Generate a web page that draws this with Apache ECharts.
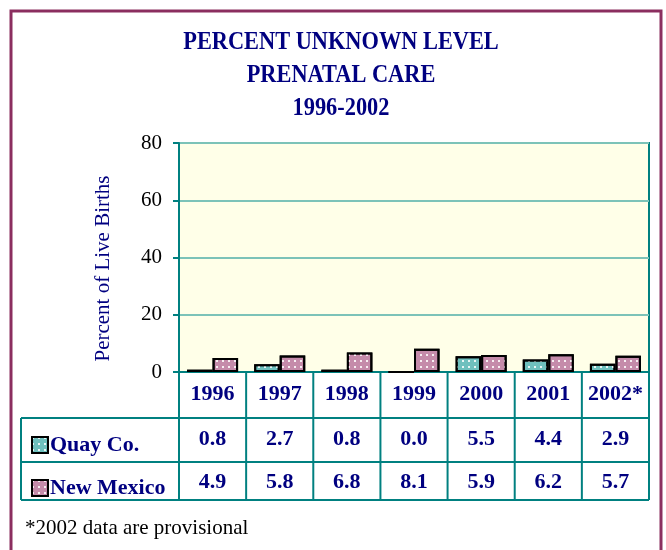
<!DOCTYPE html>
<html>
<head>
<meta charset="utf-8">
<script src="https://cdn.jsdelivr.net/npm/echarts@6/dist/echarts.min.js"></script>
<style>
  html, body { margin: 0; padding: 0; background: #fff; }
  #chart { width: 666px; height: 550px; }
</style>
</head>
<body>
<div id="chart"></div>
<script>
// data
var years = ['1996', '1997', '1998', '1999', '2000', '2001', '2002*']
var quayCo = [0.8, 2.7, 0.8, 0.0, 5.5, 4.4, 2.9]
var newMexico = [4.9, 5.8, 6.8, 8.1, 5.9, 6.2, 5.7]
var seriesNames = ['Quay Co.', 'New Mexico']
var yTicks = [0, 20, 40, 60, 80]

var NAVY = '#000080'
var TEAL = '#008080'
var SERIF = '"Liberation Serif", "Times New Roman", serif'

var chart = echarts.init(document.getElementById('chart'))

var dots = {
  symbol: 'rect',
  symbolSize: 1,
  color: 'rgba(255,255,255,0.85)',
  dashArrayX: [1.5, 4],
  dashArrayY: [1.5, 4],
  rotation: 0
}

// table under the plot: header row is the x axis labels, body rows drawn here
function renderTable(params, api) {
  var i = api.value(0)
  var p = api.coord([i, 0])
  var bw = api.size([1, 0])[0]
  var x0 = p[0] - bw / 2
  var x1 = p[0] + bw / 2
  var y0 = p[1]
  var rowTop = y0 + 46
  var rowMid = y0 + 90
  var rowBot = y0 + 128
  var lineStyle = { stroke: TEAL, lineWidth: 2 }
  var txt = { fill: NAVY, font: 'bold 22px ' + SERIF, align: 'center', verticalAlign: 'middle' }
  var children = [
    { type: 'line', shape: { x1: x1, y1: y0, x2: x1, y2: rowBot }, style: lineStyle },
    { type: 'text', style: Object.assign({ x: p[0], y: y0 + 67, text: quayCo[i].toFixed(1) }, txt) },
    { type: 'text', style: Object.assign({ x: p[0], y: y0 + 110, text: newMexico[i].toFixed(1) }, txt) }
  ]
  if (i === 0) {
    var right = x0 + bw * years.length
    children.push(
      { type: 'line', shape: { x1: x0, y1: y0, x2: x0, y2: rowBot }, style: lineStyle },
      { type: 'line', shape: { x1: 21, y1: rowTop, x2: right, y2: rowTop }, style: lineStyle },
      { type: 'line', shape: { x1: 21, y1: rowMid, x2: right, y2: rowMid }, style: lineStyle },
      { type: 'line', shape: { x1: 21, y1: rowBot, x2: right, y2: rowBot }, style: lineStyle },
      { type: 'line', shape: { x1: 21, y1: rowTop, x2: 21, y2: rowBot }, style: lineStyle }
    )
  }
  return { type: 'group', children: children }
}

chart.setOption({
  animation: false,
  backgroundColor: '#fff',
  graphic: [
    {
      type: 'rect',
      shape: { x: 11, y: 11, width: 650, height: 600 },
      style: { fill: 'none', stroke: '#8B2E5F', lineWidth: 3 },
      z: 100
    },
    {
      type: 'text',
      x: 341,
      y: 26,
      scaleX: 0.86,
      style: {
        text: 'PERCENT UNKNOWN LEVEL\nPRENATAL CARE\n1996-2002',
        x: 0,
        y: 0,
        align: 'center',
        fill: NAVY,
        font: 'bold 26px ' + SERIF,
        lineHeight: 33
      }
    },
    {
      type: 'text',
      x: 25,
      y: 528,
      style: {
        text: '*2002 data are provisional',
        fill: '#000',
        font: '21px ' + SERIF,
        verticalAlign: 'middle'
      }
    }
  ],
  legend: {
    data: seriesNames,
    orient: 'vertical',
    icon: 'rect',
    left: 26,
    top: 429,
    itemWidth: 16,
    itemHeight: 16,
    itemGap: 21,
    itemStyle: { borderColor: '#000', borderWidth: 2 },
    textStyle: { color: NAVY, fontFamily: SERIF, fontWeight: 'bold', fontSize: 22, lineHeight: 22, padding: [0, 0, 0, -3] },
    selectedMode: false
  },
  grid: {
    left: 179,
    top: 143,
    width: 470,
    height: 229,
    show: true,
    backgroundColor: '#FFFFE8',
    borderColor: TEAL,
    borderWidth: 2
  },
  xAxis: {
    type: 'category',
    data: years,
    axisLine: { lineStyle: { color: TEAL, width: 2 } },
    axisTick: { show: false },
    axisLabel: {
      color: NAVY,
      fontFamily: SERIF,
      fontWeight: 'bold',
      fontSize: 22,
      margin: 11,
      interval: 0
    }
  },
  yAxis: {
    type: 'value',
    min: yTicks[0],
    max: yTicks[yTicks.length - 1],
    interval: 20,
    name: 'Percent of Live Births',
    nameLocation: 'middle',
    nameGap: 65,
    nameTextStyle: { color: NAVY, fontFamily: SERIF, fontSize: 21, padding: [0, 22, 0, 0] },
    axisLine: { show: true, lineStyle: { color: TEAL, width: 2 } },
    axisTick: { show: true, length: 6, lineStyle: { color: TEAL, width: 2 } },
    axisLabel: { color: '#000', fontFamily: SERIF, fontSize: 21, margin: 17 },
    splitLine: { lineStyle: { color: '#7CC3B8', width: 2 } }
  },
  series: [
    {
      name: seriesNames[0],
      type: 'bar',
      data: quayCo,
      barGap: '0%',
      barCategoryGap: '24%',
      itemStyle: { color: '#6FC0BE', borderColor: '#000', borderWidth: 2, decal: dots }
    },
    {
      name: seriesNames[1],
      type: 'bar',
      data: newMexico,
      itemStyle: { color: '#C58BAA', borderColor: '#000', borderWidth: 2, decal: dots }
    },
    {
      type: 'custom',
      renderItem: renderTable,
      data: years.map(function (y, i) { return [i, quayCo[i], newMexico[i]] }),
      clip: false,
      silent: true,
      z: 5
    }
  ]
})
</script>
</body>
</html>
